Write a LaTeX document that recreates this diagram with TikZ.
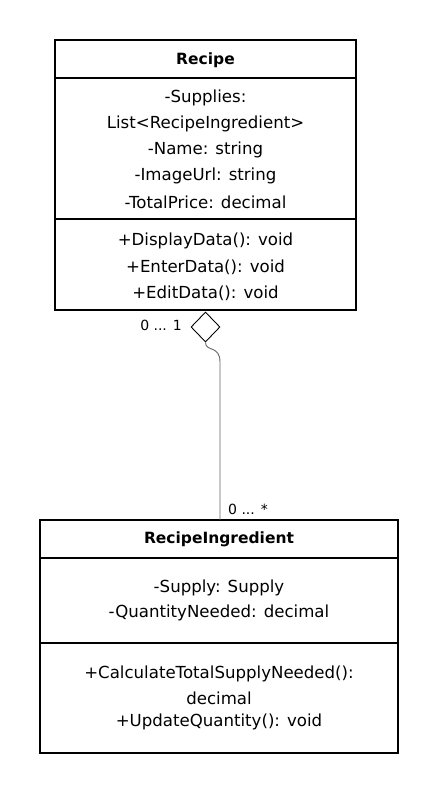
\documentclass[tikz,border=0pt]{standalone}
\usepackage{fontspec}
\setmainfont{DejaVu Sans}
\usetikzlibrary{shapes.geometric}
\begin{document}
\begin{tikzpicture}[x=1pt,y=-1pt,
  box/.style={draw=black,line width=1.6pt},
  sep/.style={draw=black,line width=1.6pt},
  txt/.style={font=\fontsize{16.6}{18}\selectfont,anchor=center,inner sep=0pt},
  ttl/.style={font=\fontsize{15.5}{17}\selectfont\bfseries,anchor=center,inner sep=0pt},
  mult/.style={font=\fontsize{14}{16}\selectfont,inner sep=0pt},
  conn/.style={draw=black!60,line width=0.9pt}]
\useasboundingbox (0,0) rectangle (440,793);
% Recipe class
\node[box,minimum width=301pt,minimum height=270pt,inner sep=0pt] (recipe) at (205.5,175) {};
\draw[sep] (55,78) -- (356,78);
\draw[sep] (55,219) -- (356,219);
\node[ttl] (rt) at (205.5,60) {Recipe};
\node[txt] (ra1) at (205.5,98) {-Supplies:};
\node[txt] (ra2) at (205.5,124) {List<RecipeIngredient>};
\node[txt] (ra3) at (205.5,150) {-Name: string};
\node[txt] (ra4) at (205.5,176) {-ImageUrl: string};
\node[txt] (ra5) at (205.5,202) {-TotalPrice: decimal};
\node[txt] (rm1) at (205.5,241) {+DisplayData(): void};
\node[txt] (rm2) at (205.5,267) {+EnterData(): void};
\node[txt] (rm3) at (205.5,293) {+EditData(): void};
% RecipeIngredient class
\node[box,minimum width=358pt,minimum height=233pt,inner sep=0pt] (ing) at (219,636.5) {};
\draw[sep] (40,558) -- (398,558);
\draw[sep] (40,643) -- (398,643);
\node[ttl] (it) at (219,539) {RecipeIngredient};
\node[txt] (ia1) at (219,588) {-Supply: Supply};
\node[txt] (ia2) at (219,613) {-QuantityNeeded: decimal};
\node[txt] (im1) at (219,674) {+CalculateTotalSupplyNeeded():};
\node[txt] (im2) at (219,698) {decimal};
\node[txt] (im3) at (219,722) {+UpdateQuantity(): void};
% aggregation diamond
\node[diamond,draw=black,line width=0.9pt,fill=white,minimum width=29pt,minimum height=30pt,inner sep=0pt,aspect=1] (dia) at (205.5,327) {};
\coordinate (bend) at (220,362);
\draw[conn] (dia.south) .. controls (205.5,352) and (220,345) .. (bend) -- (220,520);
\node[mult,anchor=east] (m1) at (182,325) {0 ... 1};
\node[mult,anchor=west] (m2) at (228,509) {0 ... *};
\end{tikzpicture}
\end{document}
